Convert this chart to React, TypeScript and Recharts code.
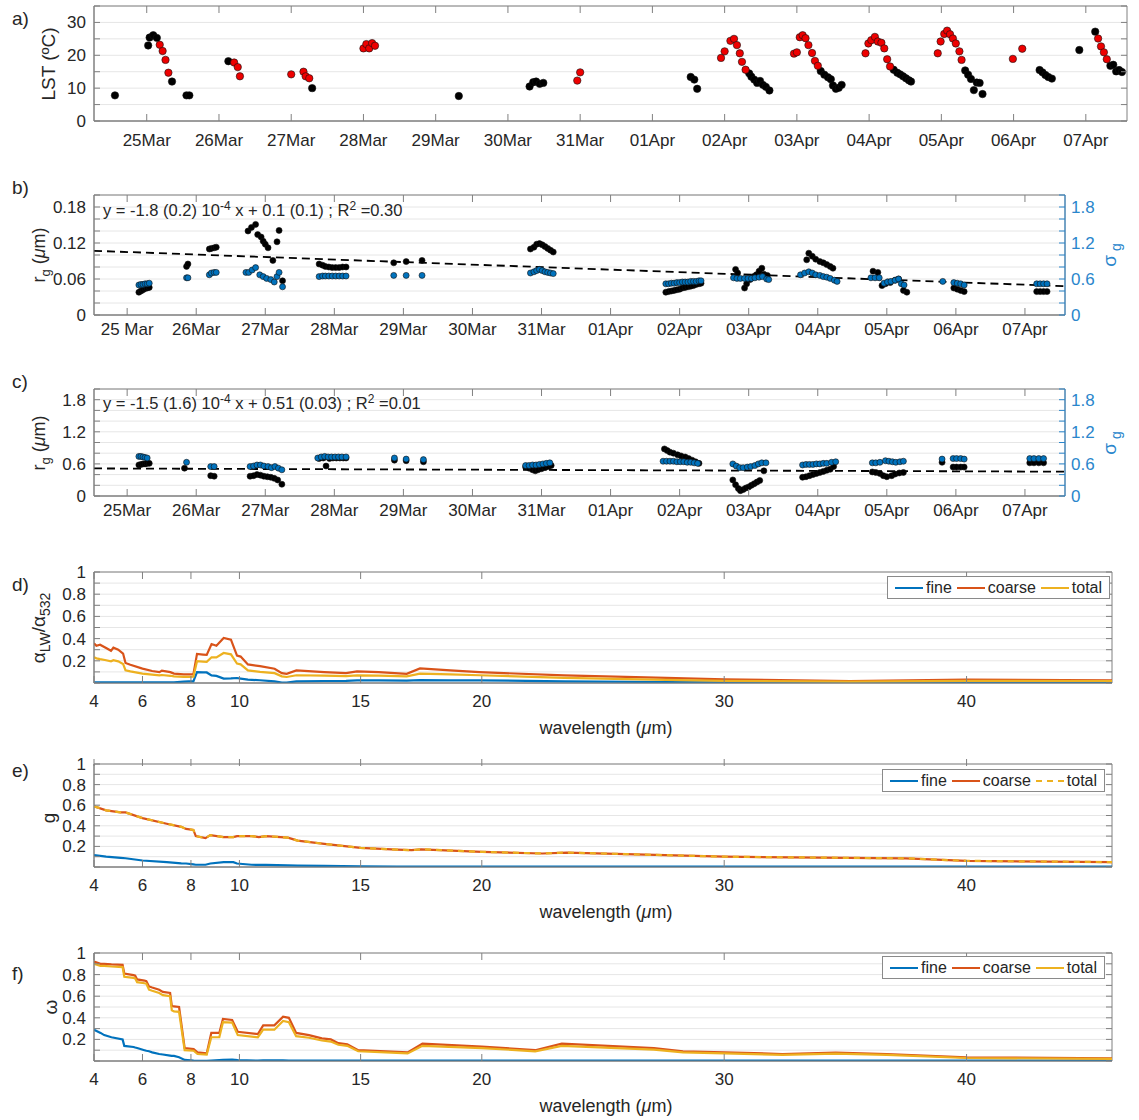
import React from 'react';
import {
  ScatterChart,
  Scatter,
  LineChart,
  Line,
  XAxis,
  YAxis,
  CartesianGrid,
  ReferenceArea,
  ReferenceLine,
  Legend,
} from 'recharts';

const FONT = "'Liberation Sans', Arial, Helvetica, sans-serif";
const TXT = '#262626';
const BOX = '#808080';
const GRID = '#e6e6e6';
const BLUE = '#0072BD';
const RED = '#D95319';
const YEL = '#EDB120';
const AXBLUE = '#2a86cc';
const TICK_FS = 17;

// ---------- shared ticks ----------
const dayTicks = [25, 26, 27, 28, 29, 30, 31, 32, 33, 34, 35, 36, 37, 38];
const dayLabels = ['25Mar', '26Mar', '27Mar', '28Mar', '29Mar', '30Mar', '31Mar', '01Apr', '02Apr', '03Apr', '04Apr', '05Apr', '06Apr', '07Apr'];
const dayLabelsB = ['25 Mar', '26Mar', '27Mar', '28Mar', '29Mar', '30Mar', '31Mar', '01Apr', '02Apr', '03Apr', '04Apr', '05Apr', '06Apr', '07Apr'];
const lstTicks = [0, 5, 10, 15, 20, 25, 30, 35];
const lstLabeled = [0, 10, 20, 30];
const rgFineTicks = [0, 0.02, 0.04, 0.06, 0.08, 0.1, 0.12, 0.14, 0.16, 0.18, 0.2];
const rgFineLabeled = [0, 0.06, 0.12, 0.18];
const sigmaTicks = [0, 0.2, 0.4, 0.6, 0.8, 1, 1.2, 1.4, 1.6, 1.8, 2];
const sigmaLabeled = [0, 0.6, 1.2, 1.8];
const wlTicks = [4, 6, 8, 10, 15, 20, 30, 40];
const unitTicks = [0, 0.1, 0.2, 0.3, 0.4, 0.5, 0.6, 0.7, 0.8, 0.9, 1];
const unitLabeled = [0.2, 0.4, 0.6, 0.8, 1];
const legendOrder = ['fine', 'coarse', 'total'];

// ---------- a) LST ----------
const lstBlack: [number, number][] = [
  [24.56, 7.8], [25.02, 23.0], [25.04, 25.4], [25.09, 26.1], [25.14, 25.3], [25.35, 12.0], [25.55, 7.8], [25.59, 7.8],
  [26.13, 18.2], [27.29, 10.0], [29.32, 7.6],
  [30.3, 10.5], [30.35, 11.8], [30.39, 12.0], [30.44, 11.3], [30.49, 11.6],
  [32.53, 13.4], [32.58, 12.6], [32.62, 9.8],
  [33.34, 14.5], [33.37, 13.5], [33.41, 12.6], [33.45, 11.6], [33.49, 12.2], [33.53, 11.0], [33.57, 10.4], [33.62, 9.3],
  [34.33, 15.2], [34.38, 14.1], [34.43, 13.3], [34.47, 12.7], [34.5, 10.8], [34.54, 9.8], [34.58, 10.1], [34.62, 11.0],
  [35.34, 15.6], [35.39, 14.7], [35.43, 14.2], [35.47, 13.6], [35.51, 13.0], [35.55, 12.4], [35.58, 12.0],
  [36.33, 15.4], [36.37, 14.1], [36.41, 12.8], [36.45, 9.4], [36.49, 11.7], [36.53, 11.6], [36.57, 8.2],
  [37.36, 15.5], [37.4, 14.8], [37.44, 14.0], [37.48, 13.4], [37.53, 12.9],
  [37.91, 21.6], [38.13, 27.2], [38.34, 16.8], [38.38, 17.1], [38.42, 15.1], [38.46, 15.5], [38.5, 14.9],
];
const lstRed: [number, number][] = [
  [25.18, 23.2], [25.22, 21.3], [25.26, 18.6], [25.3, 14.7],
  [26.21, 17.8], [26.26, 16.4], [26.29, 13.6],
  [27.0, 14.2], [27.17, 15.0], [27.2, 13.6], [27.25, 13.0],
  [28.0, 22.1], [28.04, 23.4], [28.08, 22.1], [28.12, 23.7], [28.16, 22.9],
  [30.96, 12.3], [31.0, 14.8],
  [32.95, 19.2], [33.0, 21.2], [33.08, 24.4], [33.13, 25.0], [33.17, 23.1], [33.21, 20.6], [33.24, 18.0], [33.29, 15.6],
  [33.96, 20.5], [34.0, 20.9], [34.04, 25.5], [34.08, 26.1], [34.12, 25.2], [34.16, 23.1], [34.21, 20.7], [34.25, 18.3], [34.29, 16.8],
  [34.95, 20.6], [34.99, 23.6], [35.03, 24.6], [35.08, 25.6], [35.12, 24.2], [35.17, 23.8], [35.21, 22.1], [35.25, 18.8], [35.29, 16.6],
  [35.95, 20.6], [35.99, 24.2], [36.04, 26.5], [36.08, 27.5], [36.12, 26.4], [36.16, 25.1], [36.2, 23.6], [36.25, 21.2], [36.28, 18.6],
  [36.99, 18.9], [37.12, 22.0],
  [38.17, 25.1], [38.21, 22.7], [38.25, 20.9], [38.29, 18.8],
];

// ---------- b) fine mode rg / sigma ----------
const rgFine: [number, number][] = [
  [25.17, 0.038], [25.2, 0.04], [25.23, 0.042], [25.26, 0.044], [25.29, 0.045], [25.32, 0.046],
  [25.86, 0.081], [25.88, 0.085],
  [26.19, 0.11], [26.22, 0.111], [26.26, 0.112], [26.29, 0.113],
  [26.75, 0.14], [26.8, 0.146], [26.86, 0.151], [26.89, 0.134], [26.94, 0.13], [26.97, 0.123], [27.0, 0.118], [27.04, 0.112], [27.11, 0.091], [27.17, 0.122], [27.2, 0.141], [27.25, 0.057],
  [27.78, 0.085], [27.83, 0.083], [27.87, 0.081], [27.92, 0.08], [27.97, 0.079], [28.02, 0.079], [28.07, 0.079], [28.12, 0.08], [28.17, 0.08],
  [28.86, 0.087], [29.04, 0.089], [29.27, 0.091],
  [30.84, 0.11], [30.89, 0.113], [30.93, 0.118], [30.97, 0.119], [31.01, 0.117], [31.05, 0.114], [31.09, 0.111], [31.13, 0.108], [31.17, 0.105],
  [32.8, 0.038], [32.84, 0.039], [32.88, 0.04], [32.92, 0.041], [32.96, 0.042], [33.0, 0.043], [33.04, 0.045], [33.08, 0.046], [33.12, 0.047], [33.16, 0.048], [33.2, 0.049], [33.24, 0.051], [33.28, 0.052], [33.31, 0.053],
  [33.81, 0.076], [33.84, 0.07], [33.94, 0.045], [33.97, 0.052], [34.02, 0.059], [34.07, 0.064], [34.11, 0.067], [34.15, 0.073], [34.19, 0.078], [34.22, 0.068], [34.27, 0.066],
  [34.84, 0.092], [34.87, 0.103], [34.92, 0.098], [34.97, 0.093], [35.03, 0.089], [35.08, 0.087], [35.13, 0.084], [35.18, 0.081], [35.22, 0.078],
  [35.8, 0.073], [35.87, 0.071], [35.93, 0.049], [35.98, 0.052], [36.05, 0.054], [36.12, 0.058], [36.17, 0.06], [36.24, 0.041], [36.29, 0.038],
  [36.97, 0.045], [37.02, 0.043], [37.07, 0.041], [37.12, 0.039],
  [38.17, 0.039], [38.22, 0.039], [38.27, 0.039], [38.32, 0.039],
];
const sigmaFine: [number, number][] = [
  [25.17, 0.5], [25.2, 0.51], [25.23, 0.51], [25.26, 0.52], [25.29, 0.52], [25.32, 0.53],
  [25.86, 0.62], [25.88, 0.62],
  [26.19, 0.67], [26.22, 0.7], [26.26, 0.71], [26.29, 0.71],
  [26.72, 0.71], [26.76, 0.71], [26.81, 0.75], [26.86, 0.79], [26.92, 0.67], [26.97, 0.64], [27.02, 0.61], [27.08, 0.59], [27.13, 0.55], [27.17, 0.64], [27.2, 0.71], [27.25, 0.47],
  [27.78, 0.64], [27.83, 0.65], [27.87, 0.65], [27.92, 0.65], [27.97, 0.65], [28.02, 0.65], [28.07, 0.65], [28.12, 0.65], [28.17, 0.65],
  [28.86, 0.66], [29.04, 0.66], [29.27, 0.66],
  [30.84, 0.7], [30.89, 0.72], [30.93, 0.74], [30.97, 0.76], [31.01, 0.74], [31.05, 0.72], [31.09, 0.71], [31.13, 0.7], [31.17, 0.69],
  [32.8, 0.52], [32.84, 0.52], [32.88, 0.53], [32.92, 0.53], [32.96, 0.54], [33.0, 0.54], [33.04, 0.55], [33.08, 0.55], [33.12, 0.55], [33.16, 0.56], [33.2, 0.56], [33.24, 0.56], [33.28, 0.57], [33.31, 0.57],
  [33.78, 0.62], [33.83, 0.61], [33.88, 0.61], [33.94, 0.61], [33.99, 0.61], [34.04, 0.61], [34.09, 0.62], [34.15, 0.63], [34.2, 0.64], [34.26, 0.6], [34.29, 0.59],
  [34.75, 0.67], [34.81, 0.7], [34.87, 0.72], [34.92, 0.7], [34.97, 0.67], [35.03, 0.66], [35.08, 0.64], [35.13, 0.63], [35.18, 0.61], [35.24, 0.58], [35.28, 0.56],
  [35.77, 0.62], [35.83, 0.62], [35.89, 0.62], [35.96, 0.53], [36.01, 0.55], [36.06, 0.56], [36.12, 0.58], [36.17, 0.6], [36.21, 0.52], [36.25, 0.5],
  [36.81, 0.56], [36.97, 0.54], [37.02, 0.53], [37.07, 0.52], [37.12, 0.5],
  [38.17, 0.52], [38.22, 0.52], [38.27, 0.52], [38.32, 0.52],
];
const rgFineFit: [number, number][] = [[24.52, 0.107], [38.58, 0.048]];

// ---------- c) coarse mode rg / sigma ----------
const rgCoarse: [number, number][] = [
  [25.17, 0.58], [25.2, 0.59], [25.23, 0.6], [25.26, 0.6], [25.29, 0.61], [25.32, 0.61],
  [25.83, 0.52],
  [26.21, 0.38], [26.26, 0.37],
  [26.78, 0.37], [26.83, 0.38], [26.88, 0.4], [26.93, 0.39], [26.98, 0.37], [27.03, 0.36], [27.08, 0.35], [27.13, 0.33], [27.18, 0.3], [27.24, 0.22],
  [27.78, 0.7], [27.84, 0.71], [27.88, 0.56], [27.93, 0.7], [27.98, 0.71], [28.03, 0.71], [28.08, 0.71], [28.13, 0.71], [28.17, 0.71],
  [28.87, 0.67], [29.04, 0.66], [29.29, 0.64],
  [30.77, 0.54], [30.82, 0.52], [30.87, 0.49], [30.91, 0.47], [30.95, 0.49], [31.0, 0.51], [31.05, 0.53], [31.1, 0.55], [31.14, 0.57],
  [32.78, 0.88], [32.82, 0.85], [32.86, 0.82], [32.91, 0.8], [32.97, 0.77], [33.02, 0.75], [33.08, 0.73], [33.13, 0.7], [33.18, 0.67], [33.23, 0.64], [33.28, 0.61],
  [33.77, 0.3], [33.81, 0.21], [33.85, 0.14], [33.88, 0.1], [33.92, 0.12], [33.96, 0.15], [34.0, 0.17], [34.04, 0.2], [34.08, 0.23], [34.12, 0.26], [34.16, 0.29], [34.22, 0.47],
  [34.78, 0.35], [34.83, 0.36], [34.88, 0.38], [34.93, 0.4], [34.98, 0.42], [35.03, 0.44], [35.08, 0.46], [35.13, 0.48], [35.18, 0.5], [35.23, 0.55],
  [35.79, 0.45], [35.84, 0.44], [35.9, 0.42], [35.95, 0.38], [36.0, 0.36], [36.07, 0.38], [36.12, 0.41], [36.18, 0.43], [36.24, 0.44],
  [36.8, 0.63], [36.96, 0.54], [37.01, 0.54], [37.07, 0.54], [37.12, 0.54],
  [38.07, 0.62], [38.13, 0.62], [38.2, 0.62], [38.27, 0.62],
];
const sigmaCoarse: [number, number][] = [
  [25.17, 0.74], [25.2, 0.74], [25.23, 0.73], [25.26, 0.72], [25.29, 0.71],
  [25.86, 0.63],
  [26.21, 0.55], [26.26, 0.55],
  [26.78, 0.55], [26.83, 0.56], [26.88, 0.58], [26.93, 0.58], [26.98, 0.56], [27.04, 0.55], [27.09, 0.53], [27.14, 0.55], [27.19, 0.52], [27.24, 0.49],
  [27.76, 0.71], [27.81, 0.73], [27.86, 0.74], [27.91, 0.73], [27.96, 0.73], [28.01, 0.73], [28.06, 0.73], [28.11, 0.73], [28.17, 0.73],
  [28.87, 0.71], [29.04, 0.69], [29.29, 0.68],
  [30.77, 0.57], [30.82, 0.57], [30.87, 0.58], [30.92, 0.58], [30.97, 0.59], [31.02, 0.6], [31.07, 0.61], [31.12, 0.62],
  [32.76, 0.65], [32.81, 0.65], [32.86, 0.65], [32.91, 0.65], [32.96, 0.64], [33.01, 0.64], [33.06, 0.64], [33.11, 0.63], [33.16, 0.63], [33.21, 0.62], [33.26, 0.61],
  [33.77, 0.6], [33.82, 0.56], [33.87, 0.53], [33.92, 0.53], [33.98, 0.54], [34.03, 0.55], [34.09, 0.57], [34.14, 0.6], [34.19, 0.62], [34.25, 0.62],
  [34.78, 0.58], [34.83, 0.59], [34.88, 0.59], [34.93, 0.59], [34.98, 0.6], [35.03, 0.6], [35.08, 0.61], [35.13, 0.61], [35.2, 0.63], [35.26, 0.64],
  [35.79, 0.62], [35.84, 0.62], [35.9, 0.63], [35.98, 0.66], [36.03, 0.65], [36.08, 0.64], [36.13, 0.63], [36.19, 0.64], [36.24, 0.65],
  [36.8, 0.69], [36.96, 0.7], [37.01, 0.7], [37.07, 0.7], [37.12, 0.69],
  [38.07, 0.7], [38.13, 0.7], [38.2, 0.7], [38.27, 0.7],
];
const rgCoarseFit: [number, number][] = [[24.52, 0.515], [38.58, 0.455]];

// ---------- d) alpha_LW / alpha_532 ----------
const ratioWl = [4.0, 4.1, 4.25, 4.5, 4.7, 4.8, 5.0, 5.2, 5.3, 5.5, 6.0, 6.4, 6.7, 6.8, 7.15, 7.3, 7.7, 7.9, 8.1, 8.25, 8.5, 8.65, 8.85, 9.05, 9.35, 9.65, 9.9, 10.05, 10.35, 10.85, 11.45, 11.75, 11.95, 12.35, 13.5, 14.4, 14.85, 15.75, 16.9, 17.45, 18.7, 19.9, 23.4, 27.6, 30, 35.2, 40, 46];
const ratioCoarse = [0.357, 0.336, 0.345, 0.315, 0.29, 0.318, 0.3, 0.265, 0.18, 0.164, 0.13, 0.108, 0.098, 0.112, 0.098, 0.085, 0.078, 0.077, 0.077, 0.262, 0.256, 0.253, 0.351, 0.336, 0.405, 0.39, 0.247, 0.238, 0.167, 0.152, 0.128, 0.089, 0.083, 0.113, 0.098, 0.089, 0.104, 0.098, 0.083, 0.131, 0.113, 0.098, 0.068, 0.047, 0.033, 0.018, 0.03, 0.024];
const ratioTotal = [0.232, 0.222, 0.215, 0.205, 0.195, 0.205, 0.195, 0.172, 0.115, 0.105, 0.085, 0.075, 0.068, 0.072, 0.065, 0.06, 0.055, 0.055, 0.057, 0.196, 0.192, 0.19, 0.232, 0.23, 0.27, 0.258, 0.175, 0.168, 0.113, 0.1, 0.089, 0.06, 0.054, 0.07, 0.066, 0.062, 0.068, 0.066, 0.06, 0.085, 0.078, 0.07, 0.047, 0.028, 0.02, 0.012, 0.02, 0.018];
const ratioFine = [0.005, 0.005, 0.005, 0.005, 0.005, 0.005, 0.005, 0.005, 0.005, 0.005, 0.005, 0.005, 0.005, 0.005, 0.005, 0.006, 0.012, 0.014, 0.015, 0.098, 0.096, 0.095, 0.068, 0.064, 0.04, 0.042, 0.045, 0.04, 0.03, 0.025, 0.015, 0.004, 0.003, 0.015, 0.018, 0.02, 0.024, 0.024, 0.022, 0.025, 0.024, 0.024, 0.015, 0.008, 0.005, 0.004, 0.005, 0.005];

// ---------- e) asymmetry parameter g ----------
const gWl = [4, 4.5, 5.1, 5.3, 6, 7, 7.6, 7.8, 8.1, 8.2, 8.6, 8.8, 9.35, 9.75, 9.9, 10.5, 10.8, 11.1, 12, 12.4, 13.5, 15, 16.5, 17.1, 17.5, 20, 22.5, 23.5, 30, 37.5, 40, 46];
const gCoarse = [0.59, 0.55, 0.53, 0.53, 0.475, 0.42, 0.39, 0.37, 0.36, 0.3, 0.28, 0.31, 0.29, 0.29, 0.3, 0.3, 0.29, 0.3, 0.285, 0.256, 0.225, 0.185, 0.169, 0.163, 0.172, 0.147, 0.131, 0.14, 0.1, 0.084, 0.06, 0.047];
const gTotal = [0.59, 0.55, 0.53, 0.53, 0.475, 0.42, 0.39, 0.37, 0.36, 0.3, 0.28, 0.31, 0.29, 0.29, 0.3, 0.3, 0.29, 0.3, 0.285, 0.256, 0.225, 0.185, 0.169, 0.163, 0.172, 0.147, 0.131, 0.14, 0.1, 0.084, 0.06, 0.047];
const gFine = [0.115, 0.1, 0.088, 0.085, 0.063, 0.047, 0.036, 0.034, 0.025, 0.022, 0.022, 0.034, 0.047, 0.047, 0.034, 0.022, 0.02, 0.02, 0.016, 0.014, 0.01, 0.006, 0.005, 0.005, 0.005, 0.005, 0.004, 0.004, 0.003, 0.003, 0.003, 0.003];

// ---------- f) single scattering albedo ----------
const ssaWl = [4, 4.27, 4.42, 4.72, 5.18, 5.25, 5.63, 5.7, 5.78, 6.08, 6.16, 6.27, 6.4, 6.69, 6.84, 7.14, 7.21, 7.3, 7.51, 7.74, 8.11, 8.27, 8.65, 8.84, 9.17, 9.32, 9.7, 9.93, 10.76, 10.98, 11.44, 11.8, 12.04, 12.34, 12.87, 13.4, 13.77, 14.08, 14.45, 14.9, 16.94, 17.55, 20, 22.2, 23.3, 27.1, 28.3, 30, 32.4, 34.6, 36.7, 40, 46];
const ssaCoarse = [0.92, 0.9, 0.9, 0.895, 0.89, 0.81, 0.795, 0.79, 0.755, 0.745, 0.74, 0.69, 0.68, 0.66, 0.64, 0.63, 0.51, 0.505, 0.5, 0.12, 0.11, 0.08, 0.07, 0.26, 0.26, 0.39, 0.38, 0.27, 0.25, 0.33, 0.33, 0.41, 0.4, 0.26, 0.24, 0.21, 0.2, 0.165, 0.155, 0.1, 0.08, 0.16, 0.134, 0.1, 0.16, 0.12, 0.09, 0.08, 0.065, 0.077, 0.065, 0.034, 0.025];
const ssaTotal = [0.9, 0.88, 0.88, 0.875, 0.87, 0.78, 0.77, 0.765, 0.73, 0.72, 0.715, 0.66, 0.65, 0.63, 0.61, 0.6, 0.47, 0.46, 0.455, 0.1, 0.095, 0.065, 0.06, 0.22, 0.22, 0.36, 0.355, 0.24, 0.22, 0.29, 0.29, 0.37, 0.36, 0.23, 0.215, 0.19, 0.18, 0.15, 0.14, 0.09, 0.07, 0.14, 0.12, 0.09, 0.14, 0.105, 0.08, 0.07, 0.057, 0.068, 0.057, 0.028, 0.02];
const ssaFine = [0.29, 0.26, 0.24, 0.22, 0.2, 0.14, 0.13, 0.125, 0.12, 0.1, 0.095, 0.09, 0.08, 0.065, 0.06, 0.05, 0.048, 0.047, 0.035, 0.01, 0.003, 0.002, 0.002, 0.004, 0.008, 0.01, 0.012, 0.008, 0.004, 0.005, 0.005, 0.005, 0.004, 0.004, 0.003, 0.003, 0.003, 0.003, 0.003, 0.003, 0.003, 0.003, 0.003, 0.003, 0.003, 0.003, 0.003, 0.003, 0.003, 0.003, 0.003, 0.003, 0.003];

const pts = (arr: [number, number][]) => arr.map(([x, y]) => ({ x, y }));
const table = (wl: number[], fine: number[], coarse: number[], total: number[]) =>
  wl.map((w, i) => ({ w, fine: fine[i], coarse: coarse[i], total: total[i] }));

const ratioData = table(ratioWl, ratioFine, ratioCoarse, ratioTotal);
const gData = table(gWl, gFine, gCoarse, gTotal);
const ssaData = table(ssaWl, ssaFine, ssaCoarse, ssaTotal);

// ---------- tick renderers (MATLAB-style inward ticks) ----------
function xTick(labelOf: (v: number) => string, plotH: number, dist: number) {
  return (p: any) => {
    const lab = labelOf(p.payload.value);
    return (
      <g>
        <line x1={p.x} x2={p.x} y1={p.y} y2={p.y - 7} stroke={BOX} />
        <line x1={p.x} x2={p.x} y1={p.y - plotH} y2={p.y - plotH + 7} stroke={BOX} />
        {lab ? (
          <text x={p.x} y={p.y + dist + 6} textAnchor="middle" fontSize={TICK_FS} fontFamily={FONT} fill={TXT}>
            {lab}
          </text>
        ) : null}
      </g>
    );
  };
}

function yTick(labeled: number[], plotW: number, both: boolean) {
  return (p: any) => {
    const v = p.payload.value;
    const lab = labeled.includes(v) ? String(v) : '';
    return (
      <g>
        <line x1={p.x} x2={p.x + 6} y1={p.y} y2={p.y} stroke={BOX} />
        {both && <line x1={p.x + plotW} x2={p.x + plotW - 6} y1={p.y} y2={p.y} stroke={BOX} />}
        {lab ? (
          <text x={p.x - 8} y={p.y + 6} textAnchor="end" fontSize={TICK_FS} fontFamily={FONT} fill={TXT}>
            {lab}
          </text>
        ) : null}
      </g>
    );
  };
}

function rightTick(labeled: number[]) {
  return (p: any) => {
    const v = p.payload.value;
    const lab = labeled.includes(v) ? String(v) : '';
    return (
      <g>
        <line x1={p.x} x2={p.x - 6} y1={p.y} y2={p.y} stroke={AXBLUE} />
        {lab ? (
          <text x={p.x + 6} y={p.y + 6} textAnchor="start" fontSize={TICK_FS} fontFamily={FONT} fill={AXBLUE}>
            {lab}
          </text>
        ) : null}
      </g>
    );
  };
}

const dayLabel = (labels: string[]) => (v: number) => {
  const i = dayTicks.indexOf(v);
  return i >= 0 ? labels[i] : '';
};

const dot = (fill: string, r: number) => (p: any) =>
  <circle cx={p.cx} cy={p.cy} r={r} fill={fill} stroke="#111" strokeWidth={0.6} />;

function legendBox(props: any) {
  const items = [...(props.payload || [])].sort(
    (a: any, b: any) => legendOrder.indexOf(a.value) - legendOrder.indexOf(b.value)
  );
  return (
    <div
      style={{
        display: 'flex',
        alignItems: 'center',
        border: '1px solid #8a8a8a',
        background: '#fff',
        height: 23,
        padding: '0 3px 0 6px',
        fontFamily: FONT,
        fontSize: 16,
        color: TXT,
        boxSizing: 'border-box',
      }}
    >
      {items.map((e: any) => (
        <span key={e.value} style={{ display: 'flex', alignItems: 'center', marginRight: 4 }}>
          <svg width={30} height={10}>
            <line
              x1={1}
              x2={29}
              y1={5}
              y2={5}
              stroke={e.color}
              strokeWidth={2}
              strokeDasharray={e.payload && e.payload.strokeDasharray ? e.payload.strokeDasharray : undefined}
            />
          </svg>
          <span style={{ marginLeft: 2 }}>{e.value}</span>
        </span>
      ))}
    </div>
  );
}

const W = 1139;

function WavePanel({ top, height, mt, mb, data, plotH, legendTop, legendLeft, dashedTotal }: any) {
  const plotW = W - 44 - 50 - 27;
  return (
    <div style={{ position: 'absolute', left: 0, top }}>
      <LineChart width={W} height={height} data={data} margin={{ top: mt, right: 27, bottom: mb, left: 44 }}>
        <CartesianGrid vertical={false} stroke={GRID} />
        <XAxis
          dataKey="w"
          type="number"
          domain={[4, 46]}
          ticks={wlTicks}
          interval={0}
          allowDataOverflow
          height={50}
          tickSize={0}
          tickMargin={0}
          tickLine={false}
          axisLine={{ stroke: BOX }}
          tick={xTick((v) => String(v), plotH, 18)}
        />
        <YAxis
          type="number"
          domain={[0, 1]}
          ticks={unitTicks}
          interval={0}
          allowDataOverflow
          width={50}
          tickSize={0}
          tickMargin={0}
          tickLine={false}
          axisLine={{ stroke: BOX }}
          tick={yTick(unitLabeled, plotW, true)}
        />
        <ReferenceArea x1={4} x2={46} y1={0} y2={1} fill="none" stroke={BOX} ifOverflow="visible" />
        <Line dataKey="fine" name="fine" type="linear" stroke={BLUE} strokeWidth={2.2} dot={false} isAnimationActive={false} />
        <Line dataKey="coarse" name="coarse" type="linear" stroke={RED} strokeWidth={2.2} dot={false} isAnimationActive={false} />
        <Line
          dataKey="total"
          name="total"
          type="linear"
          stroke={YEL}
          strokeWidth={2.2}
          strokeDasharray={dashedTotal ? '6 5' : undefined}
          dot={false}
          isAnimationActive={false}
        />
        <Legend
          layout="horizontal"
          verticalAlign="middle"
          align="center"
          content={legendBox}
          wrapperStyle={{ left: legendLeft, top: legendTop, width: 'auto', height: 'auto' }}
        />
      </LineChart>
    </div>
  );
}

export default function App() {
  const tx = { fontFamily: FONT, fill: TXT };
  return (
    <div style={{ position: 'relative', width: W, height: 1120, background: '#fff', overflow: 'hidden' }}>
      <style>{'body{margin:0;background:#fff}'}</style>

      {/* a) LST */}
      <div style={{ position: 'absolute', left: 0, top: 0 }}>
        <ScatterChart width={W} height={160} margin={{ top: 6, right: 12, bottom: 9, left: 44 }}>
          <CartesianGrid vertical={false} stroke={GRID} />
          <XAxis
            dataKey="x"
            type="number"
            domain={[24.27, 38.57]}
            ticks={dayTicks}
            interval={0}
            allowDataOverflow
            height={30}
            tickSize={0}
            tickMargin={0}
            tickLine={false}
            axisLine={{ stroke: BOX }}
            tick={xTick(dayLabel(dayLabels), 115, 19)}
          />
          <YAxis
            dataKey="y"
            type="number"
            domain={[0, 35]}
            ticks={lstTicks}
            interval={0}
            allowDataOverflow
            width={50}
            tickSize={0}
            tickMargin={0}
            tickLine={false}
            axisLine={{ stroke: BOX }}
            tick={yTick(lstLabeled, 1033, true)}
          />
          <ReferenceArea x1={24.27} x2={38.57} y1={0} y2={35} fill="none" stroke={BOX} ifOverflow="visible" />
          <Scatter data={pts(lstBlack)} shape={dot('#000', 3.7)} isAnimationActive={false} />
          <Scatter data={pts(lstRed)} shape={dot('#ee0000', 3.7)} isAnimationActive={false} />
        </ScatterChart>
      </div>

      {/* b) fine mode */}
      <div style={{ position: 'absolute', left: 0, top: 150 }}>
        <ScatterChart width={W} height={200} margin={{ top: 45, right: 24, bottom: 11, left: 44 }}>
          <CartesianGrid vertical={false} stroke={GRID} />
          <XAxis
            dataKey="x"
            type="number"
            domain={[24.52, 38.58]}
            ticks={dayTicks}
            interval={0}
            allowDataOverflow
            height={24}
            tickSize={0}
            tickMargin={0}
            tickLine={false}
            axisLine={{ stroke: BOX }}
            tick={xTick(dayLabel(dayLabelsB), 120, 14)}
          />
          <YAxis
            dataKey="y"
            type="number"
            domain={[0, 0.2]}
            ticks={rgFineTicks}
            interval={0}
            allowDataOverflow
            width={50}
            tickSize={0}
            tickMargin={0}
            tickLine={false}
            axisLine={{ stroke: BOX }}
            tick={yTick(rgFineLabeled, 971, false)}
          />
          <YAxis
            yAxisId="r"
            orientation="right"
            dataKey="y"
            type="number"
            domain={[0, 2]}
            ticks={sigmaTicks}
            interval={0}
            allowDataOverflow
            width={50}
            tickSize={0}
            tickMargin={0}
            tickLine={false}
            axisLine={{ stroke: AXBLUE }}
            tick={rightTick(sigmaLabeled)}
          />
          <ReferenceArea x1={24.52} x2={38.58} y1={0} y2={0.2} fill="none" stroke={BOX} ifOverflow="visible" />
          <Scatter data={pts(rgFine)} shape={dot('#000', 3)} isAnimationActive={false} />
          <Scatter yAxisId="r" data={pts(sigmaFine)} shape={dot(BLUE, 3)} isAnimationActive={false} />
          <ReferenceLine segment={pts(rgFineFit)} stroke="#000" strokeWidth={1.8} strokeDasharray="8 5" ifOverflow="visible" />
        </ScatterChart>
      </div>

      {/* c) coarse mode */}
      <div style={{ position: 'absolute', left: 0, top: 345 }}>
        <ScatterChart width={W} height={180} margin={{ top: 44, right: 24, bottom: 5, left: 44 }}>
          <CartesianGrid vertical={false} stroke={GRID} />
          <XAxis
            dataKey="x"
            type="number"
            domain={[24.52, 38.58]}
            ticks={dayTicks}
            interval={0}
            allowDataOverflow
            height={24}
            tickSize={0}
            tickMargin={0}
            tickLine={false}
            axisLine={{ stroke: BOX }}
            tick={xTick(dayLabel(dayLabels), 107, 14)}
          />
          <YAxis
            dataKey="y"
            type="number"
            domain={[0, 2]}
            ticks={sigmaTicks}
            interval={0}
            allowDataOverflow
            width={50}
            tickSize={0}
            tickMargin={0}
            tickLine={false}
            axisLine={{ stroke: BOX }}
            tick={yTick(sigmaLabeled, 971, false)}
          />
          <YAxis
            yAxisId="r"
            orientation="right"
            dataKey="y"
            type="number"
            domain={[0, 2]}
            ticks={sigmaTicks}
            interval={0}
            allowDataOverflow
            width={50}
            tickSize={0}
            tickMargin={0}
            tickLine={false}
            axisLine={{ stroke: AXBLUE }}
            tick={rightTick(sigmaLabeled)}
          />
          <ReferenceArea x1={24.52} x2={38.58} y1={0} y2={2} fill="none" stroke={BOX} ifOverflow="visible" />
          <Scatter data={pts(rgCoarse)} shape={dot('#000', 3)} isAnimationActive={false} />
          <Scatter yAxisId="r" data={pts(sigmaCoarse)} shape={dot(BLUE, 3)} isAnimationActive={false} />
          <ReferenceLine segment={pts(rgCoarseFit)} stroke="#000" strokeWidth={1.8} strokeDasharray="8 5" ifOverflow="visible" />
        </ScatterChart>
      </div>

      <WavePanel top={545} height={195} mt={27} mb={7} data={ratioData} plotH={111} legendTop={31} legendLeft={887} />
      <WavePanel top={740} height={180} mt={24} mb={3} data={gData} plotH={108} legendTop={29} legendLeft={882} dashedTotal />
      <WavePanel top={930} height={190} mt={23} mb={9} data={ssaData} plotH={108} legendTop={26} legendLeft={882} />

      {/* text overlay: panel letters, axis titles, fit equations */}
      <svg width={W} height={1120} style={{ position: 'absolute', left: 0, top: 0, pointerEvents: 'none' }}>
        <g fontSize={19} {...tx}>
          <text x={12} y={25}>a)</text>
          <text x={12} y={194}>b)</text>
          <text x={12} y={388}>c)</text>
          <text x={12} y={591}>d)</text>
          <text x={12} y={777}>e)</text>
          <text x={12} y={980}>f)</text>
        </g>
        <text transform="translate(55,64) rotate(-90)" textAnchor="middle" fontSize={19} {...tx}>LST (ºC)</text>
        <text transform="translate(45,255) rotate(-90)" textAnchor="middle" fontSize={18} {...tx}>
          r<tspan dy={5} fontSize={13}>g</tspan>
          <tspan dy={-5}> (</tspan>
          <tspan fontStyle="italic">μ</tspan>m)
        </text>
        <text transform="translate(45,443) rotate(-90)" textAnchor="middle" fontSize={18} {...tx}>
          r<tspan dy={5} fontSize={13}>g</tspan>
          <tspan dy={-5}> (</tspan>
          <tspan fontStyle="italic">μ</tspan>m)
        </text>
        <text transform="translate(1116,255) rotate(-90)" textAnchor="middle" fontSize={19} fontFamily={FONT} fill={AXBLUE}>
          σ<tspan dy={5} fontSize={14}> g</tspan>
        </text>
        <text transform="translate(1116,443) rotate(-90)" textAnchor="middle" fontSize={19} fontFamily={FONT} fill={AXBLUE}>
          σ<tspan dy={5} fontSize={14}> g</tspan>
        </text>
        <text transform="translate(45,628) rotate(-90)" textAnchor="middle" fontSize={19} {...tx}>
          α<tspan dy={5} fontSize={14}>LW</tspan>
          <tspan dy={-5}>/α</tspan>
          <tspan dy={5} fontSize={14}>532</tspan>
        </text>
        <text transform="translate(55,818) rotate(-90)" textAnchor="middle" fontSize={19} {...tx}>g</text>
        <text transform="translate(57,1007) rotate(-90)" textAnchor="middle" fontSize={19} {...tx}>ω</text>

        <text x={606} y={734} textAnchor="middle" fontSize={18} {...tx}>
          wavelength (<tspan fontStyle="italic">μ</tspan>m)
        </text>
        <text x={606} y={918} textAnchor="middle" fontSize={18} {...tx}>
          wavelength (<tspan fontStyle="italic">μ</tspan>m)
        </text>
        <text x={606} y={1112} textAnchor="middle" fontSize={18} {...tx}>
          wavelength (<tspan fontStyle="italic">μ</tspan>m)
        </text>

        <text x={103} y={216} fontSize={16.5} {...tx}>
          y = -1.8 (0.2) 10<tspan dy={-6} fontSize={12}>-4</tspan>
          <tspan dy={6}> x + 0.1 (0.1) ; R</tspan>
          <tspan dy={-6} fontSize={12}>2</tspan>
          <tspan dy={6}> =0.30</tspan>
        </text>
        <text x={103} y={409} fontSize={16.5} {...tx}>
          y = -1.5 (1.6) 10<tspan dy={-6} fontSize={12}>-4</tspan>
          <tspan dy={6}> x + 0.51 (0.03) ; R</tspan>
          <tspan dy={-6} fontSize={12}>2</tspan>
          <tspan dy={6}> =0.01</tspan>
        </text>
      </svg>
    </div>
  );
}
